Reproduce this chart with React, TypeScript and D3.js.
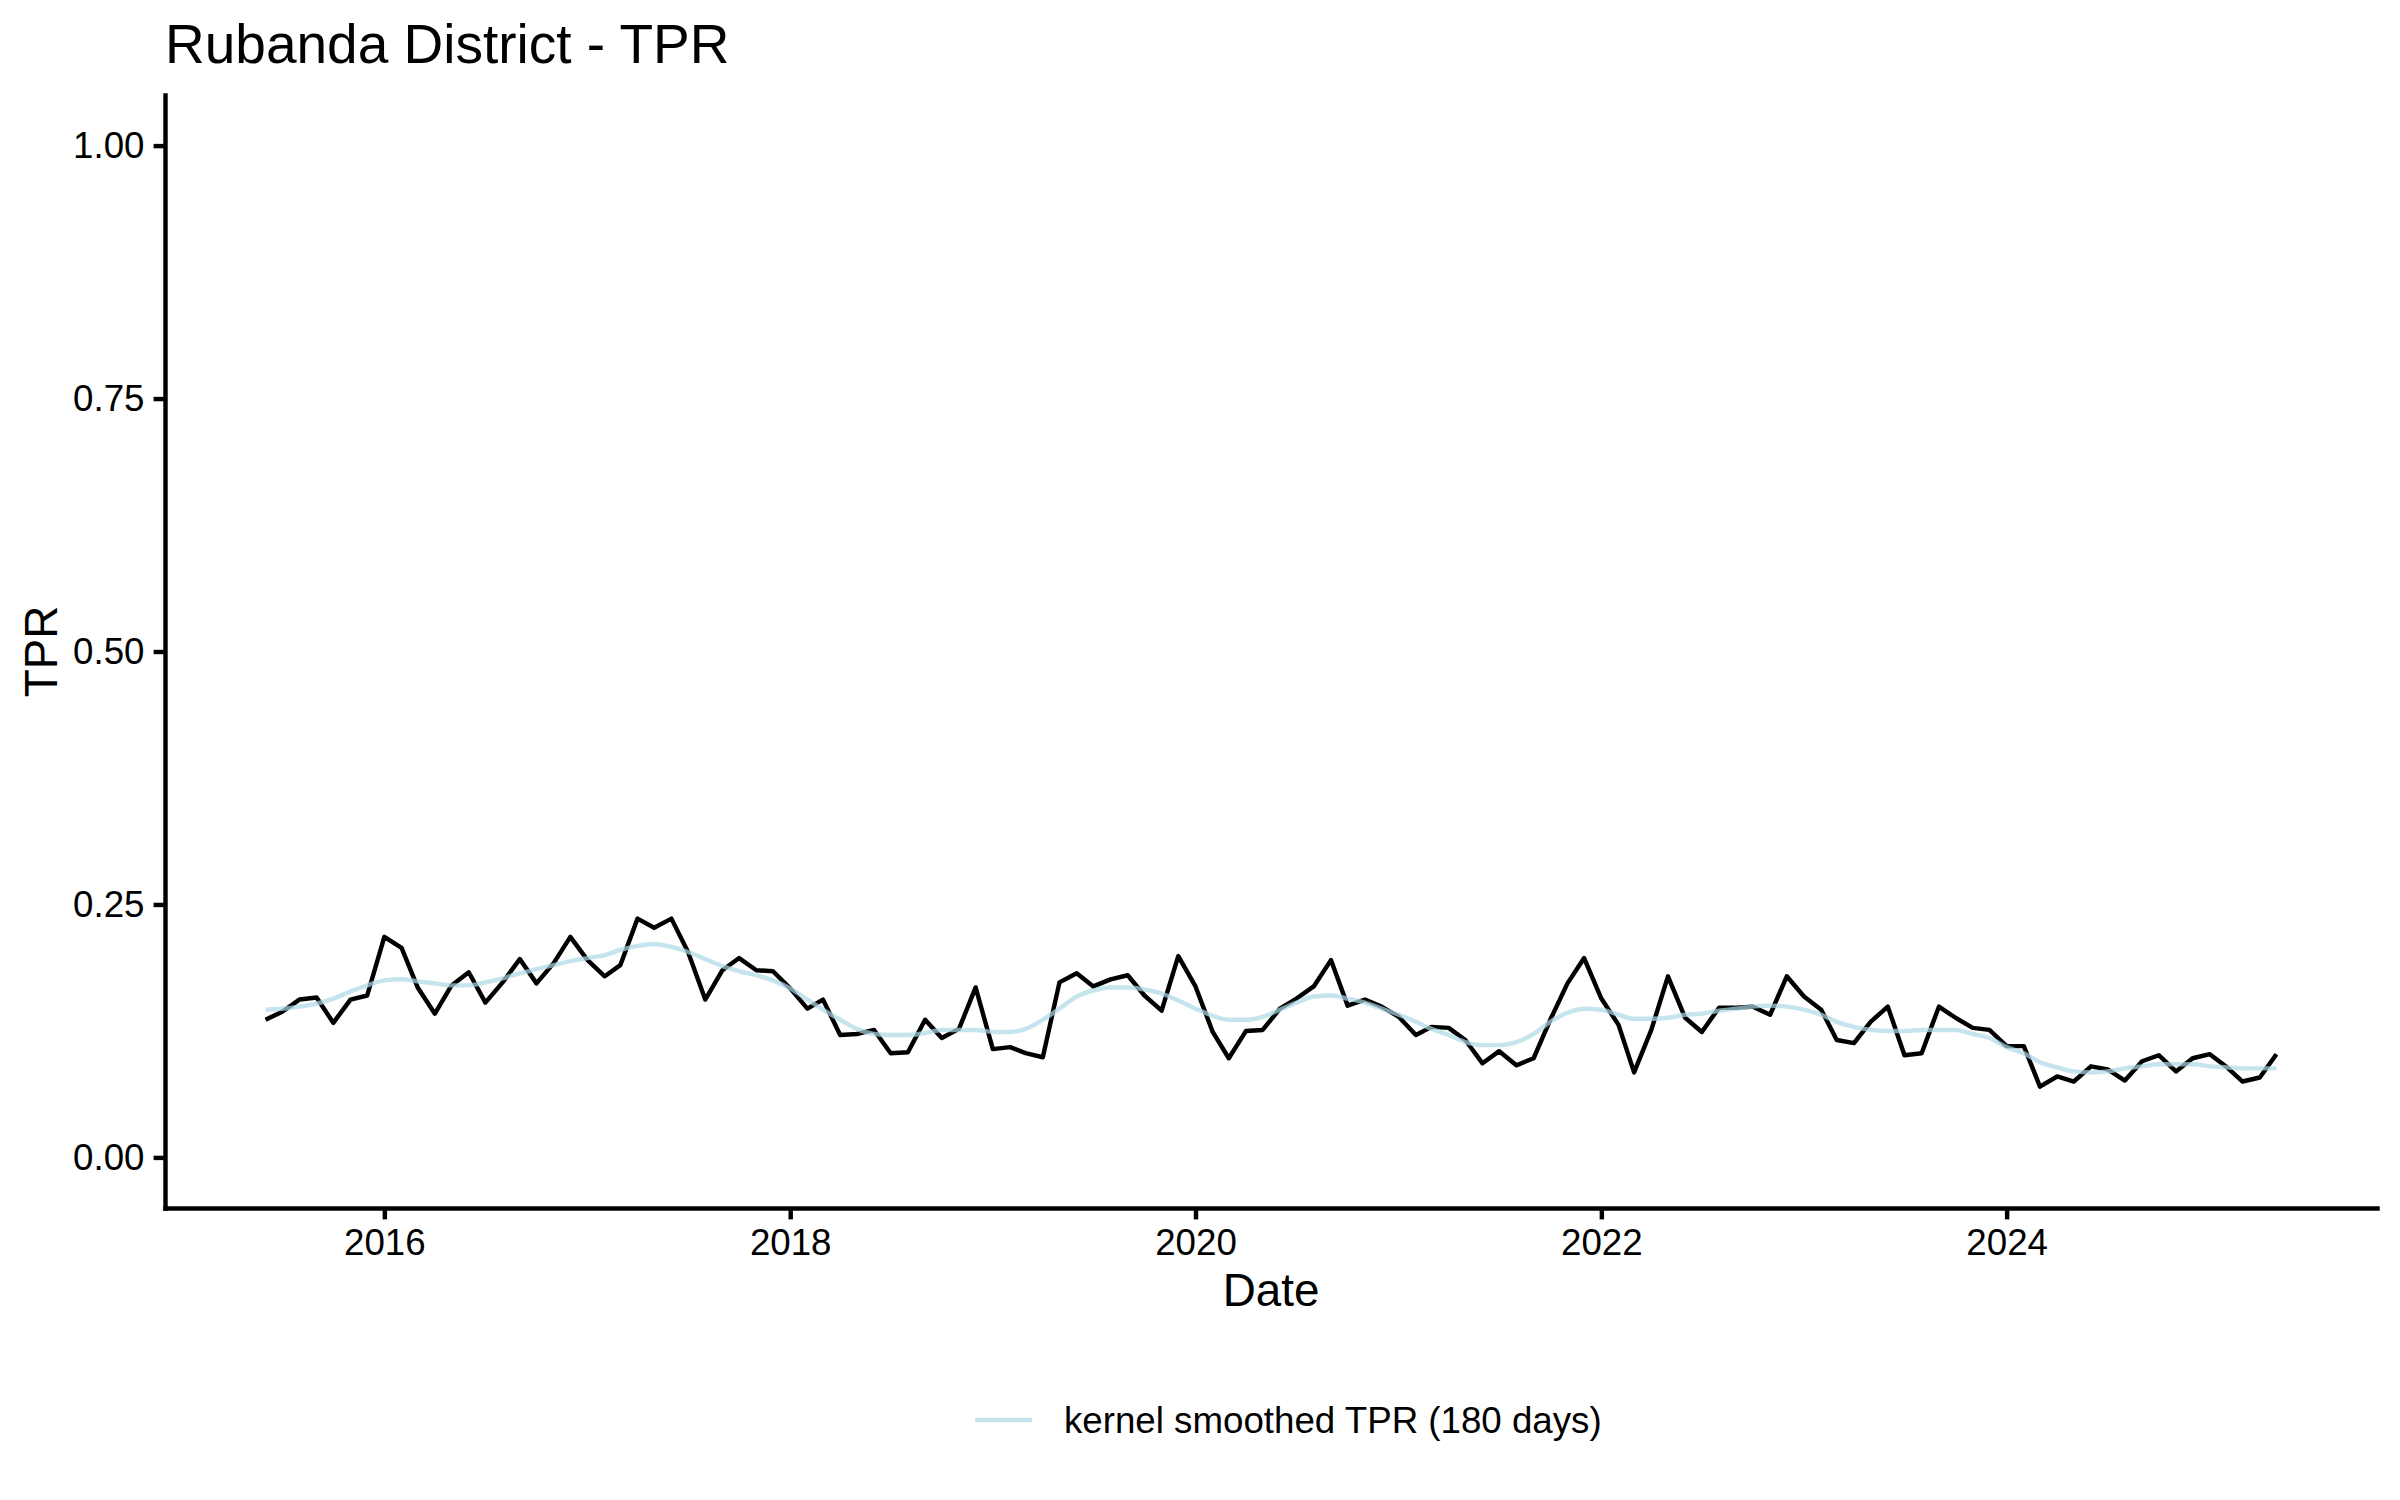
import React, { useRef, useEffect } from "react";
import * as d3 from "d3";

// monthly TPR, first month = June 2015
const startMonth = new Date(2015, 5, 1);

const tprValues = [
  0.136, 0.144, 0.156, 0.158, 0.133, 0.156, 0.16, 0.218, 0.207, 0.168,
  0.142, 0.17, 0.183, 0.153, 0.173, 0.196, 0.172, 0.192, 0.218, 0.195,
  0.179, 0.19, 0.236, 0.227, 0.236, 0.203, 0.156, 0.185, 0.197, 0.185,
  0.184, 0.167, 0.147, 0.156, 0.121, 0.122, 0.126, 0.103, 0.104, 0.136,
  0.118, 0.127, 0.168, 0.107, 0.109, 0.103, 0.099, 0.173, 0.182, 0.169,
  0.176, 0.18, 0.16, 0.145, 0.199, 0.169, 0.124, 0.098, 0.125, 0.126,
  0.147, 0.157, 0.169, 0.195, 0.15, 0.156, 0.149, 0.139, 0.121, 0.129,
  0.128, 0.116, 0.093, 0.105, 0.091, 0.098, 0.136, 0.172, 0.197, 0.157,
  0.131, 0.084, 0.126, 0.179, 0.138, 0.124, 0.148, 0.148, 0.149, 0.141,
  0.179, 0.159, 0.146, 0.116, 0.113, 0.134, 0.149, 0.101, 0.103, 0.149,
  0.138, 0.128, 0.126, 0.11, 0.11, 0.07, 0.08, 0.075, 0.09, 0.087,
  0.076, 0.095, 0.101, 0.085, 0.098, 0.102, 0.089, 0.075, 0.079, 0.102,
];

// kernel smoothed TPR (180 days) at the same months
const smoothValues = [
  0.146, 0.147, 0.149, 0.152, 0.157, 0.164, 0.17, 0.175, 0.176, 0.174,
  0.172, 0.17, 0.17, 0.173, 0.177, 0.182, 0.186, 0.19, 0.194, 0.197,
  0.2, 0.205, 0.209, 0.211, 0.208, 0.203, 0.196, 0.189, 0.184, 0.18,
  0.175, 0.167, 0.156, 0.146, 0.136, 0.127, 0.122, 0.121, 0.121, 0.123,
  0.126, 0.126, 0.126, 0.124, 0.124, 0.127, 0.136, 0.147, 0.159, 0.165,
  0.168, 0.168, 0.166, 0.162, 0.155, 0.147, 0.14, 0.136, 0.136, 0.139,
  0.146, 0.153, 0.159, 0.16, 0.157, 0.153, 0.147, 0.141, 0.134, 0.127,
  0.121, 0.114, 0.111, 0.111, 0.114, 0.122, 0.134, 0.143, 0.147, 0.146,
  0.141, 0.137, 0.137, 0.138, 0.141, 0.142, 0.145, 0.147, 0.149, 0.15,
  0.149, 0.146, 0.141, 0.134, 0.129, 0.126, 0.125, 0.125, 0.126, 0.126,
  0.126, 0.122, 0.118, 0.109, 0.103, 0.094, 0.089, 0.085, 0.084, 0.085,
  0.088, 0.09, 0.092, 0.092, 0.092, 0.09, 0.089, 0.088, 0.088, 0.088,
];

const yTicks = [0, 0.25, 0.5, 0.75, 1];
const xTickYears = [2016, 2018, 2020, 2022, 2024];
const legendLabel = "kernel smoothed TPR (180 days)";

const FONT = "'Liberation Sans', Arial, Helvetica, sans-serif";
const LW = 4.44; // 0.5mm at 300dpi
const SMOOTH_COLOR = "rgba(173, 216, 230, 0.7)";

const App: React.FC = () => {
  const svgRef = useRef<SVGSVGElement>(null);

  const width = 2400;
  const height = 1500;
  const panel = { left: 165, right: 2377, top: 95, bottom: 1208 };

  useEffect(() => {
    document.body.style.margin = "0";
    const svg = d3.select(svgRef.current);
    svg.selectAll("*").remove();

    const dates = tprValues.map((_, i) => d3.timeMonth.offset(startMonth, i));
    const rows = dates.map((d, i) => ({
      date: d,
      tpr: tprValues[i],
      smooth: smoothValues[i],
    }));

    // ggplot-like 5% expansion on x
    const [d0, d1] = d3.extent(dates) as [Date, Date];
    const pad = (d1.getTime() - d0.getTime()) * 0.05;
    const x = d3
      .scaleTime()
      .domain([new Date(d0.getTime() - pad), new Date(d1.getTime() + pad)])
      .range([panel.left, panel.right]);

    const y = d3
      .scaleLinear()
      .domain([-0.05, 1.05])
      .range([panel.bottom, panel.top]);

    svg
      .append("rect")
      .attr("width", width)
      .attr("height", height)
      .attr("fill", "white");

    // Black TPR line
    const tprLine = d3
      .line<(typeof rows)[number]>()
      .x((d) => x(d.date))
      .y((d) => y(d.tpr));

    svg
      .append("path")
      .datum(rows)
      .attr("d", tprLine)
      .attr("fill", "none")
      .attr("stroke", "black")
      .attr("stroke-width", LW)
      .attr("stroke-linejoin", "round");

    // Smoothed line on top
    const smoothLine = d3
      .line<(typeof rows)[number]>()
      .x((d) => x(d.date))
      .y((d) => y(d.smooth))
      .curve(d3.curveMonotoneX);

    svg
      .append("path")
      .datum(rows)
      .attr("d", smoothLine)
      .attr("fill", "none")
      .attr("stroke", SMOOTH_COLOR)
      .attr("stroke-width", LW)
      .attr("stroke-linejoin", "round");

    // Y axis
    const yAxis = svg
      .append("g")
      .attr("transform", `translate(${panel.left},0)`)
      .call(
        d3
          .axisLeft(y)
          .tickValues(yTicks)
          .tickFormat(d3.format(".2f"))
          .tickSize(11.4)
          .tickSizeOuter(0)
          .tickPadding(9.1)
      );

    // X axis
    const xAxis = svg
      .append("g")
      .attr("transform", `translate(0,${panel.bottom})`)
      .call(
        d3
          .axisBottom(x)
          .tickValues(xTickYears.map((yr) => new Date(yr, 0, 1)))
          .tickFormat((d) => d3.timeFormat("%Y")(d as Date))
          .tickSize(11.4)
          .tickSizeOuter(0)
          .tickPadding(9.1)
      );

    [yAxis, xAxis].forEach((ax) => {
      ax.attr("font-family", FONT).attr("font-size", 36.7);
      ax.select(".domain")
        .attr("stroke", "black")
        .attr("stroke-width", LW)
        .attr("stroke-linecap", "square");
      ax.selectAll(".tick line").attr("stroke", "black").attr("stroke-width", LW);
      ax.selectAll(".tick text").attr("fill", "black");
    });

    // Title
    svg
      .append("text")
      .attr("x", panel.left)
      .attr("y", 63)
      .attr("font-family", FONT)
      .attr("font-size", 55)
      .attr("fill", "black")
      .text("Rubanda District - TPR");

    // Axis titles
    svg
      .append("text")
      .attr("x", (panel.left + panel.right) / 2)
      .attr("y", 1306)
      .attr("text-anchor", "middle")
      .attr("font-family", FONT)
      .attr("font-size", 45.8)
      .attr("fill", "black")
      .text("Date");

    svg
      .append("text")
      .attr("transform", `translate(57,${(panel.top + panel.bottom) / 2}) rotate(-90)`)
      .attr("text-anchor", "middle")
      .attr("font-family", FONT)
      .attr("font-size", 45.8)
      .attr("fill", "black")
      .text("TPR");

    // Legend
    const legend = svg.append("g").attr("transform", "translate(968,1420)");
    legend
      .append("line")
      .attr("x1", 7)
      .attr("x2", 64)
      .attr("y1", 0)
      .attr("y2", 0)
      .attr("stroke", SMOOTH_COLOR)
      .attr("stroke-width", LW);
    legend
      .append("text")
      .attr("x", 96)
      .attr("y", 0)
      .attr("dy", "0.36em")
      .attr("font-family", FONT)
      .attr("font-size", 36.7)
      .attr("fill", "black")
      .text(legendLabel);
  }, []);

  return (
    <svg
      ref={svgRef}
      width={width}
      height={height}
      style={{ display: "block" }}
    />
  );
};

export default App;
